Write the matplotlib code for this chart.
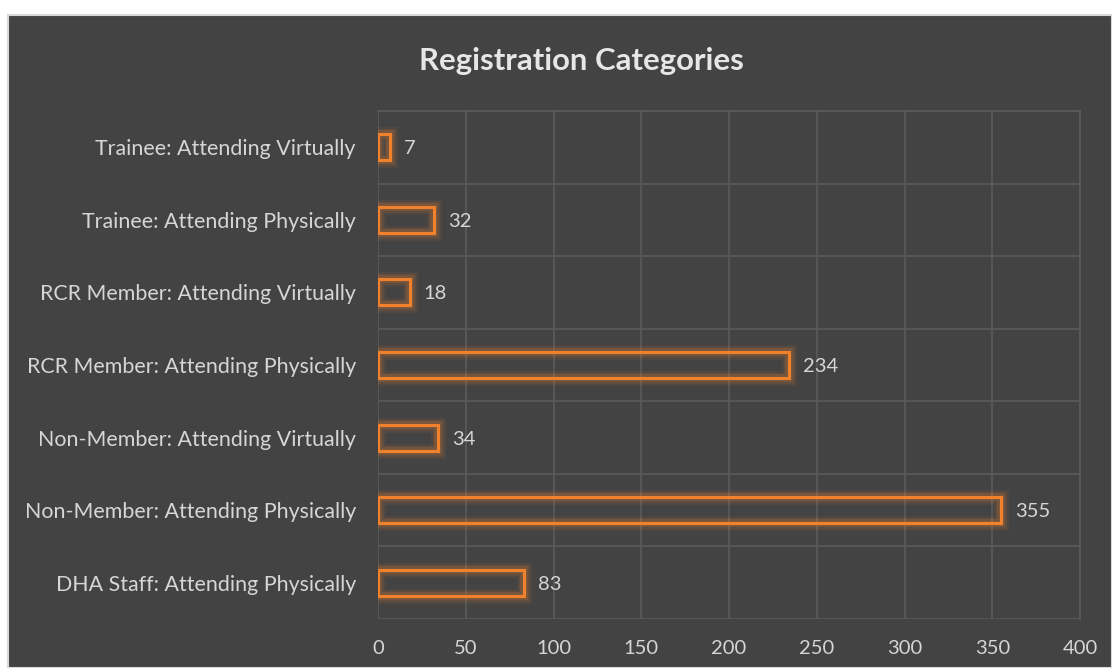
"""Registration categories: horizontal outline bars on a dark panel."""
import matplotlib
matplotlib.use("Agg")
import matplotlib.pyplot as plt
from matplotlib.patches import Rectangle

categories = [
    "DHA Staff: Attending Physically",
    "Non-Member: Attending Physically",
    "Non-Member: Attending Virtually",
    "RCR Member: Attending Physically",
    "RCR Member: Attending Virtually",
    "Trainee: Attending Physically",
    "Trainee: Attending Virtually",
]
counts = [83, 355, 34, 234, 18, 32, 7]
xticks = [0, 50, 100, 150, 200, 250, 300, 350, 400]

BG = "#434343"
GRID = "#5a5a5a"
TXT = "#d6d6d6"
ORANGE = "#f0822e"

plt.rcParams["font.family"] = ["Lato", "DejaVu Sans"]

fig = plt.figure(figsize=(11.12, 6.68), dpi=100)
fig.patch.set_facecolor("white")
# dark chart panel with thin light border (white margin top/left)
fig.patches.append(Rectangle((8 / 1112, 0), 1 - 8 / 1112, 1 - 15 / 668,
                             transform=fig.transFigure, facecolor=BG,
                             edgecolor="#d9d9d9", linewidth=1.5, zorder=-5))

ax = fig.add_axes([378 / 1112, 1 - 619 / 668, (1080 - 378) / 1112, (619 - 111) / 668])
ax.set_facecolor(BG)
ypos = list(range(len(categories)))

# glow: wide faint outlines behind the crisp one
for lw, a in [(11, 0.07), (8, 0.1), (5.5, 0.18)]:
    ax.barh(ypos, counts, height=0.36, facecolor="none", edgecolor=ORANGE,
            linewidth=lw, alpha=a, zorder=3)
ax.barh(ypos, counts, height=0.36, facecolor="none", edgecolor=ORANGE,
        linewidth=2.2, zorder=4)

for y, v in zip(ypos, counts):
    ax.text(v + 8, y, str(v), va="center_baseline", ha="left", color=TXT, fontsize=14.5)

ax.set_xlim(0, 400)
ax.set_ylim(-0.5, len(categories) - 0.5)
ax.set_xticks(xticks)
ax.set_yticks(ypos)
ax.set_yticklabels(categories)
ax.set_yticks([y + 0.5 for y in ypos[:-1]], minor=True)
ax.tick_params(axis="both", which="both", length=0, colors=TXT)
ax.tick_params(axis="x", pad=15, labelsize=14.5)
ax.tick_params(axis="y", pad=16, labelsize=15.4)
ax.grid(True, axis="x", color=GRID, linewidth=1.2, zorder=0)
ax.grid(True, axis="y", which="minor", color=GRID, linewidth=1.2, zorder=0)
for s in ax.spines.values():
    s.set_color(GRID)
    s.set_linewidth(1.2)
ax.spines["left"].set_visible(False)
ax.spines["bottom"].set_visible(False)
ax.axhline(-0.5, color=GRID, linewidth=1.2, zorder=0)

fig.text(0.523, 1 - 61 / 668, "Registration Categories", ha="center", va="center",
         color="#e6e6e6", fontsize=22.4, fontweight="bold")

fig.savefig("out.png", dpi=100, facecolor=fig.get_facecolor())
